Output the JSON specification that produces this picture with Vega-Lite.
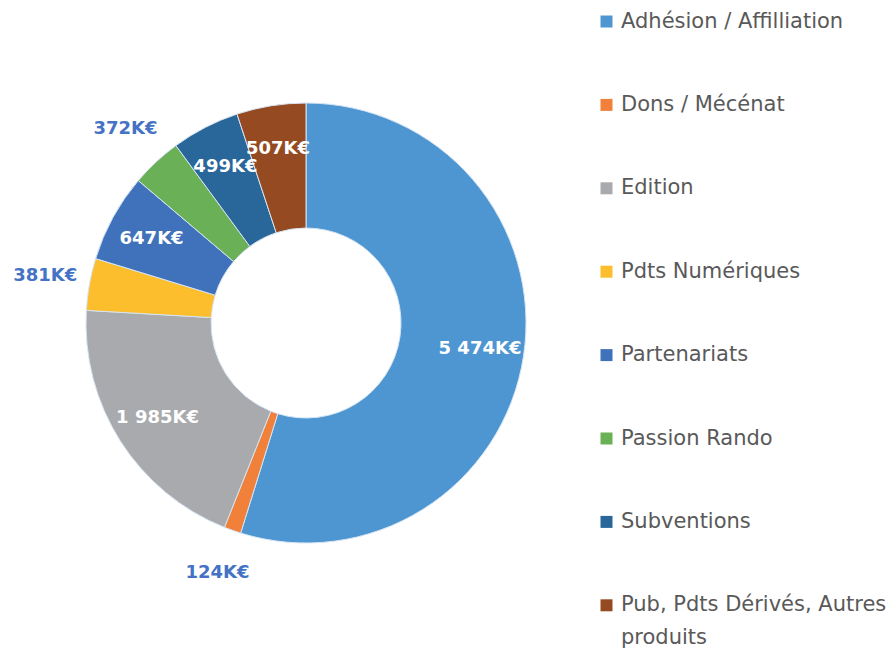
{
  "$schema": "https://vega.github.io/schema/vega-lite/v6.json",
  "width": 612,
  "height": 646,
  "padding": 0,
  "autosize": {"type": "pad"},
  "background": "white",
  "config": {"view": {"stroke": null}, "font": "DejaVu Sans", "style": {"guide-label": {"lineHeight": 33}}},
  "data": {
    "values": [
      {"ordre": 1, "categorie": "Adhésion / Affilliation", "montant": 5474, "etiquette": "5 474K€"},
      {"ordre": 2, "categorie": "Dons / Mécénat", "montant": 124, "etiquette": "124K€"},
      {"ordre": 3, "categorie": "Edition", "montant": 1985, "etiquette": "1 985K€"},
      {"ordre": 4, "categorie": "Pdts Numériques", "montant": 381, "etiquette": "381K€"},
      {"ordre": 5, "categorie": "Partenariats", "montant": 647, "etiquette": "647K€"},
      {"ordre": 6, "categorie": "Passion Rando", "montant": 372, "etiquette": "372K€"},
      {"ordre": 7, "categorie": "Subventions", "montant": 499, "etiquette": "499K€"},
      {"ordre": 8, "categorie": "Pub, Pdts Dérivés, Autres produits", "montant": 507, "etiquette": "507K€"}
    ]
  },
  "encoding": {
    "theta": {"field": "montant", "type": "quantitative", "stack": true},
    "order": {"field": "ordre", "type": "quantitative"}
  },
  "layer": [
    {
      "mark": {"type": "arc", "innerRadius": 95, "outerRadius": 220, "stroke": "#d6e4f2", "strokeWidth": 1},
      "encoding": {
        "color": {
          "field": "categorie",
          "type": "nominal",
          "scale": {
            "domain": ["Adhésion / Affilliation", "Dons / Mécénat", "Edition", "Pdts Numériques", "Partenariats", "Passion Rando", "Subventions", "Pub, Pdts Dérivés, Autres produits"],
            "range": ["#4E96D2", "#F0803A", "#A9AAAD", "#FCBE2C", "#3F72BA", "#6AB056", "#296699", "#954A21"]
          },
          "legend": {
            "orient": "none",
            "legendX": 596,
            "legendY": 11,
            "title": null,
            "padding": 0,
            "symbolType": "square",
            "symbolSize": 144,
            "symbolStrokeWidth": 0,
            "labelFontSize": 21,
            "labelColor": "#595959",
            "labelLimit": 400,
            "labelOffset": 4,
            "rowPadding": 61.4,
            "labelExpr": "datum.label == 'Pub, Pdts Dérivés, Autres produits' ? ['Pub, Pdts Dérivés, Autres', 'produits'] : datum.label"
          }
        }
      }
    },
    {
      "mark": {"type": "text", "radius": 176, "fontSize": 18, "fontWeight": "bold", "color": "white"},
      "encoding": {"text": {"condition": {"test": "datum.montant >= 450", "field": "etiquette"}, "value": ""}}
    },
    {
      "mark": {"type": "text", "radius": 265, "fontSize": 18, "fontWeight": "bold", "color": "#4472C4"},
      "encoding": {"text": {"condition": {"test": "datum.montant < 450", "field": "etiquette"}, "value": ""}}
    }
  ]
}
